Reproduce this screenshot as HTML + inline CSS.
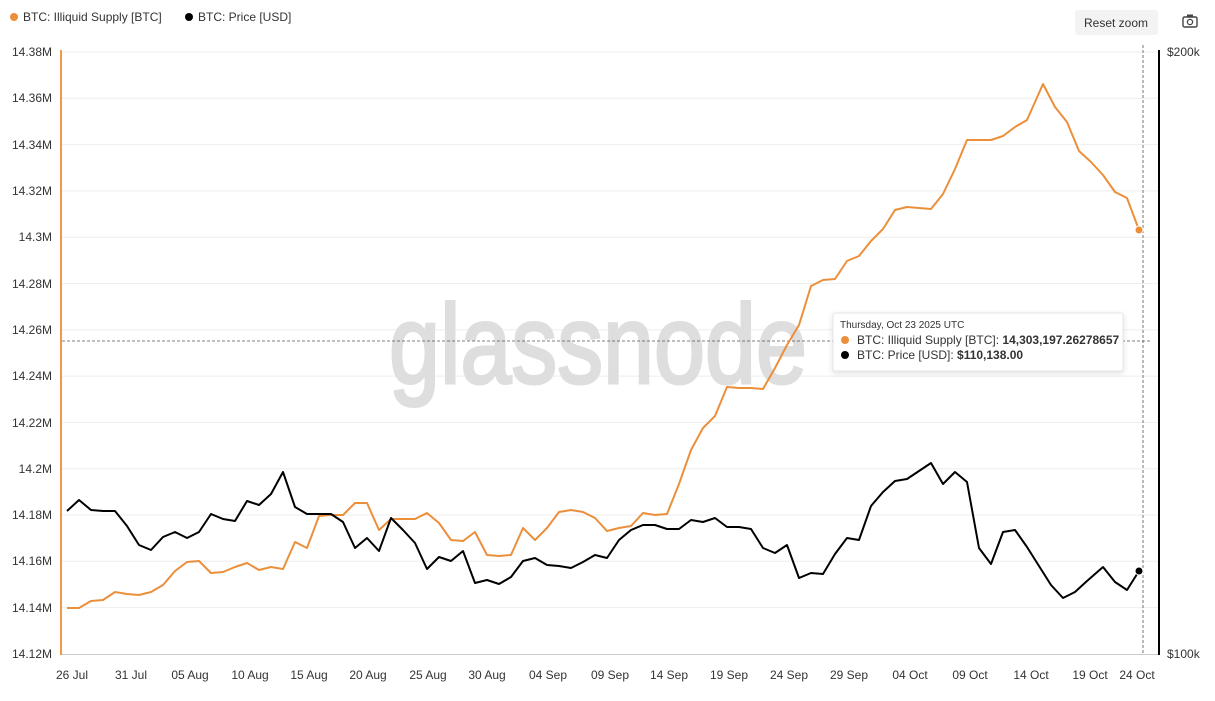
<!DOCTYPE html>
<html><head><meta charset="utf-8"><style>
body{margin:0;background:#fff;font-family:"Liberation Sans",sans-serif;}
svg text{font-family:"Liberation Sans",sans-serif;}
</style></head><body>
<svg width="1215" height="696" xmlns="http://www.w3.org/2000/svg">
<rect width="1215" height="696" fill="#fff"/>
<g stroke="#eeeeee" stroke-width="1">
<line x1="62" x2="1160" y1="52" y2="52"/><line x1="62" x2="1160" y1="98.3" y2="98.3"/><line x1="62" x2="1160" y1="144.6" y2="144.6"/><line x1="62" x2="1160" y1="190.9" y2="190.9"/><line x1="62" x2="1160" y1="237.2" y2="237.2"/><line x1="62" x2="1160" y1="283.5" y2="283.5"/><line x1="62" x2="1160" y1="329.8" y2="329.8"/><line x1="62" x2="1160" y1="376.1" y2="376.1"/><line x1="62" x2="1160" y1="422.4" y2="422.4"/><line x1="62" x2="1160" y1="468.7" y2="468.7"/><line x1="62" x2="1160" y1="515" y2="515"/><line x1="62" x2="1160" y1="561.3" y2="561.3"/><line x1="62" x2="1160" y1="607.6" y2="607.6"/>
</g>
<line x1="62" x2="1160" y1="654.5" y2="654.5" stroke="#ccc"/>
<text x="389" y="383" font-size="112" fill="#dedede" stroke="#dedede" stroke-width="3" textLength="418" lengthAdjust="spacingAndGlyphs">glassnode</text>
<g font-size="12" fill="#333" text-anchor="end">
<text x="52" y="56">14.38M</text><text x="52" y="102">14.36M</text><text x="52" y="149">14.34M</text><text x="52" y="195">14.32M</text><text x="52" y="241">14.3M</text><text x="52" y="288">14.28M</text><text x="52" y="334">14.26M</text><text x="52" y="380">14.24M</text><text x="52" y="427">14.22M</text><text x="52" y="473">14.2M</text><text x="52" y="519">14.18M</text><text x="52" y="565">14.16M</text><text x="52" y="612">14.14M</text><text x="52" y="658">14.12M</text>
</g>
<g font-size="12" fill="#333"><text x="1167" y="56">$200k</text><text x="1167" y="658">$100k</text></g>
<g font-size="12" fill="#333" text-anchor="middle">
<text x="72" y="679">26 Jul</text><text x="131" y="679">31 Jul</text><text x="190" y="679">05 Aug</text><text x="250" y="679">10 Aug</text><text x="309" y="679">15 Aug</text><text x="368" y="679">20 Aug</text><text x="428" y="679">25 Aug</text><text x="487" y="679">30 Aug</text><text x="548" y="679">04 Sep</text><text x="610" y="679">09 Sep</text><text x="669" y="679">14 Sep</text><text x="729" y="679">19 Sep</text><text x="789" y="679">24 Sep</text><text x="849" y="679">29 Sep</text><text x="910" y="679">04 Oct</text><text x="970" y="679">09 Oct</text><text x="1031" y="679">14 Oct</text><text x="1090" y="679">19 Oct</text><text x="1137" y="679">24 Oct</text>
</g>
<line x1="61" x2="61" y1="50" y2="655" stroke="#f09a45" stroke-width="2"/>
<line x1="1159" x2="1159" y1="50" y2="655" stroke="#000" stroke-width="2"/>
<line x1="1143" x2="1143" y1="45" y2="655" stroke="#555" stroke-dasharray="3,2" stroke-width="0.8"/>
<line x1="62" x2="1150" y1="341" y2="341" stroke="#555" stroke-dasharray="3,2" stroke-width="0.8"/>
<polyline fill="none" stroke="#ec8f3b" stroke-width="2" stroke-linejoin="round" points="67,608 79,608 91,601 103,600 115,592 127,594 139,595 151,592 163,585 175,571 187,562 199,561 211,573 223,572 235,567 247,563 259,570 271,567 283,569 295,542 307,548 319,516 331,515 343,515 355,503 367,503 379,530 391,519 403,519 415,519 427,513 439,523 451,540 463,541 475,532 487,555 499,556 511,555 523,528 535,540 547,528 559,512 571,510 583,512 595,518 607,531 619,528 631,526 643,513 655,515 667,514 679,484 691,450 703,428 715,416 727,387 739,388 751,388 763,389 775,368 787,345 799,325 811,286 823,280 835,279 847,261 859,256 871,241 883,229 895,210 907,207 919,208 931,209 943,194 955,169 967,140 979,140 991,140 1003,136 1015,127 1027,120 1043,84 1055,107 1067,122 1079,151 1091,162 1103,175 1115,192 1127,198 1139,230"/>
<polyline fill="none" stroke="#000" stroke-width="2" stroke-linejoin="round" points="67,511 79,500 91,510 103,511 115,511 127,526 139,545 151,550 163,537 175,532 187,538 199,532 211,514 223,519 235,521 247,501 259,505 271,494 283,472 295,507 307,514 319,514 331,514 343,522 355,548 367,538 379,551 391,518 403,530 415,543 427,569 439,557 451,561 463,551 475,583 487,580 499,584 511,577 523,561 535,558 547,565 559,566 571,568 583,562 595,555 607,558 619,540 631,530 643,525 655,525 667,529 679,529 691,520 703,522 715,518 727,527 739,527 751,529 763,548 775,553 787,545 799,578 811,573 823,574 835,554 847,538 859,540 871,506 883,492 895,481 907,479 919,471 931,463 943,484 955,472 967,482 979,548 991,564 1003,532 1015,530 1027,547 1039,566 1051,585 1063,598 1075,592 1087,581 1103,567 1115,582 1127,590 1139,571"/>
<circle cx="1139" cy="230" r="4" fill="#ec8f3b" stroke="#fff"/>
<circle cx="1139" cy="571" r="4" fill="#000" stroke="#fff"/>
<rect x="833" y="313" width="290" height="58" fill="#fff" stroke="#e6e6e6" rx="2" style="filter:drop-shadow(0 2px 3px rgba(0,0,0,0.12))"/>
<text x="840" y="328" font-size="10" fill="#333">Thursday, Oct 23 2025 UTC</text>
<circle cx="845" cy="340" r="4" fill="#ec8f3b"/>
<text x="857" y="344" font-size="12" fill="#333">BTC: Illiquid Supply [BTC]: <tspan font-weight="bold">14,303,197.26278657</tspan></text>
<circle cx="845" cy="355" r="4" fill="#000"/>
<text x="857" y="359" font-size="12" fill="#333">BTC: Price [USD]: <tspan font-weight="bold">$110,138.00</tspan></text>
<circle cx="14" cy="17" r="4" fill="#ec8f3b"/><text x="23" y="21" font-size="12" fill="#333">BTC: Illiquid Supply [BTC]</text>
<circle cx="189" cy="17" r="4" fill="#000"/><text x="198" y="21" font-size="12" fill="#333">BTC: Price [USD]</text>
<rect x="1075" y="10" width="83" height="25" rx="3" fill="#f3f3f3"/>
<text x="1116" y="27" font-size="12" fill="#333" text-anchor="middle">Reset zoom</text>
<rect x="1183" y="17" width="14" height="10" rx="1.5" fill="none" stroke="#444" stroke-width="1.4"/>
<rect x="1187" y="14.5" width="6" height="3" fill="#444"/>
<circle cx="1190" cy="22" r="2.6" fill="none" stroke="#444" stroke-width="1.3"/>
</svg>
</body></html>
